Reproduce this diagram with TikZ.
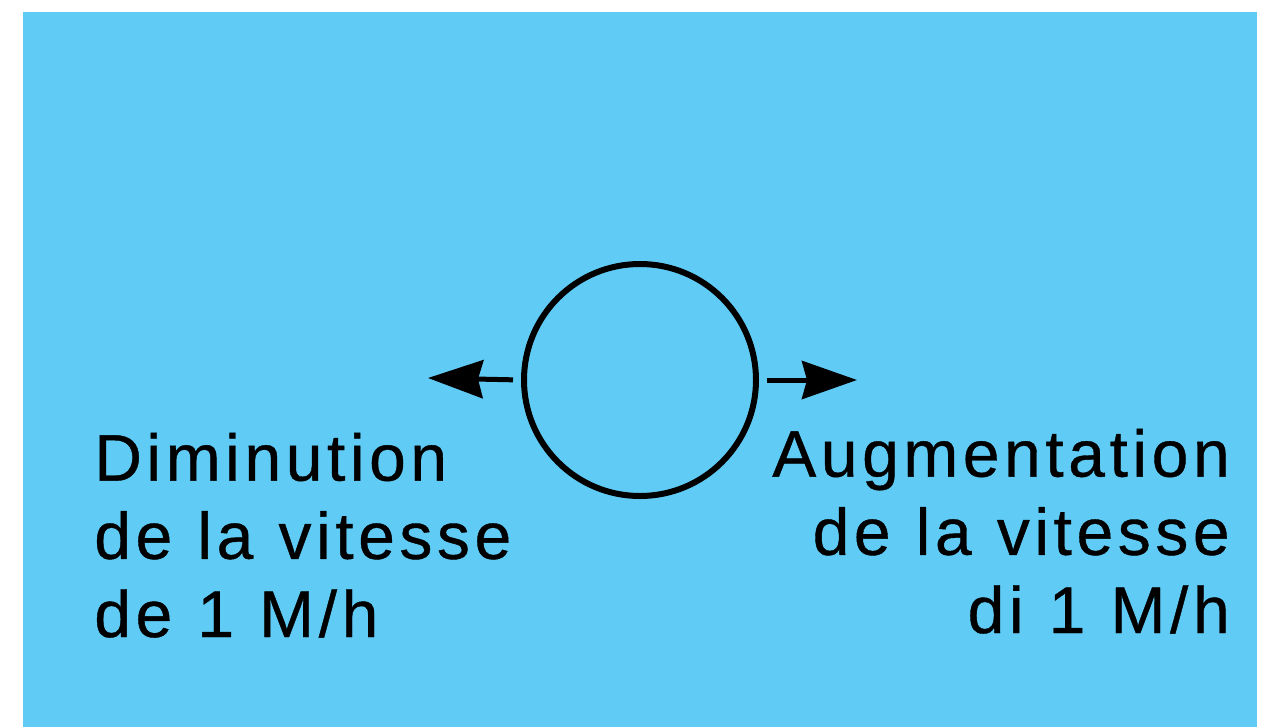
\documentclass[tikz,border=0pt]{standalone}
\usepackage{fontspec}
\setmainfont{Liberation Sans}
\newfontfamily\labelfont{Liberation Sans}[LetterSpace=7,WordSpace=1.1,FakeBold=0.6]
\usetikzlibrary{shapes}
\usetikzlibrary{math}
\usetikzlibrary{arrows.meta}
\definecolor{pageblue}{RGB}{96,204,246}

\begin{document}
\begin{tikzpicture}[x = 0.02cm, y = -0.02cm]

	\tikzmath{\cx = 640; \cy = 380;};
	\tikzset{label text/.style = {inner sep = 0, font = {\labelfont\fontsize{37.5}{44.5}\selectfont}},
		push/.style = {line width = 5*0.02cm, -{Stealth[length = 1.1cm, width = 0.76cm, inset = 0.1cm]}, shorten <= 8*0.02cm}}

	\useasboundingbox (0,0) rectangle (1269,727);
	\fill [pageblue] (23,12) rectangle (1257,727);

	\node[circle, draw, line width = 6*0.02cm, minimum size = 232*0.02cm] (speed) at (\cx,\cy) {};

	\coordinate (slower) at (428,378);
	\coordinate (faster) at (857,380);
	\draw [push] (speed.west) -- (slower);
	\draw [push] (speed.east) -- (faster);

	% the base anchor sits on the last line
	\node[label text, anchor = base west, align = left] (dimin) at (94,637) {Diminution\\de la vitesse\\de 1 M/h};
	\node[label text, anchor = base east, align = right] (augm) at (1230,633) {Augmentation\\de la vitesse\\di 1 M/h};

\end{tikzpicture}
\end{document}
